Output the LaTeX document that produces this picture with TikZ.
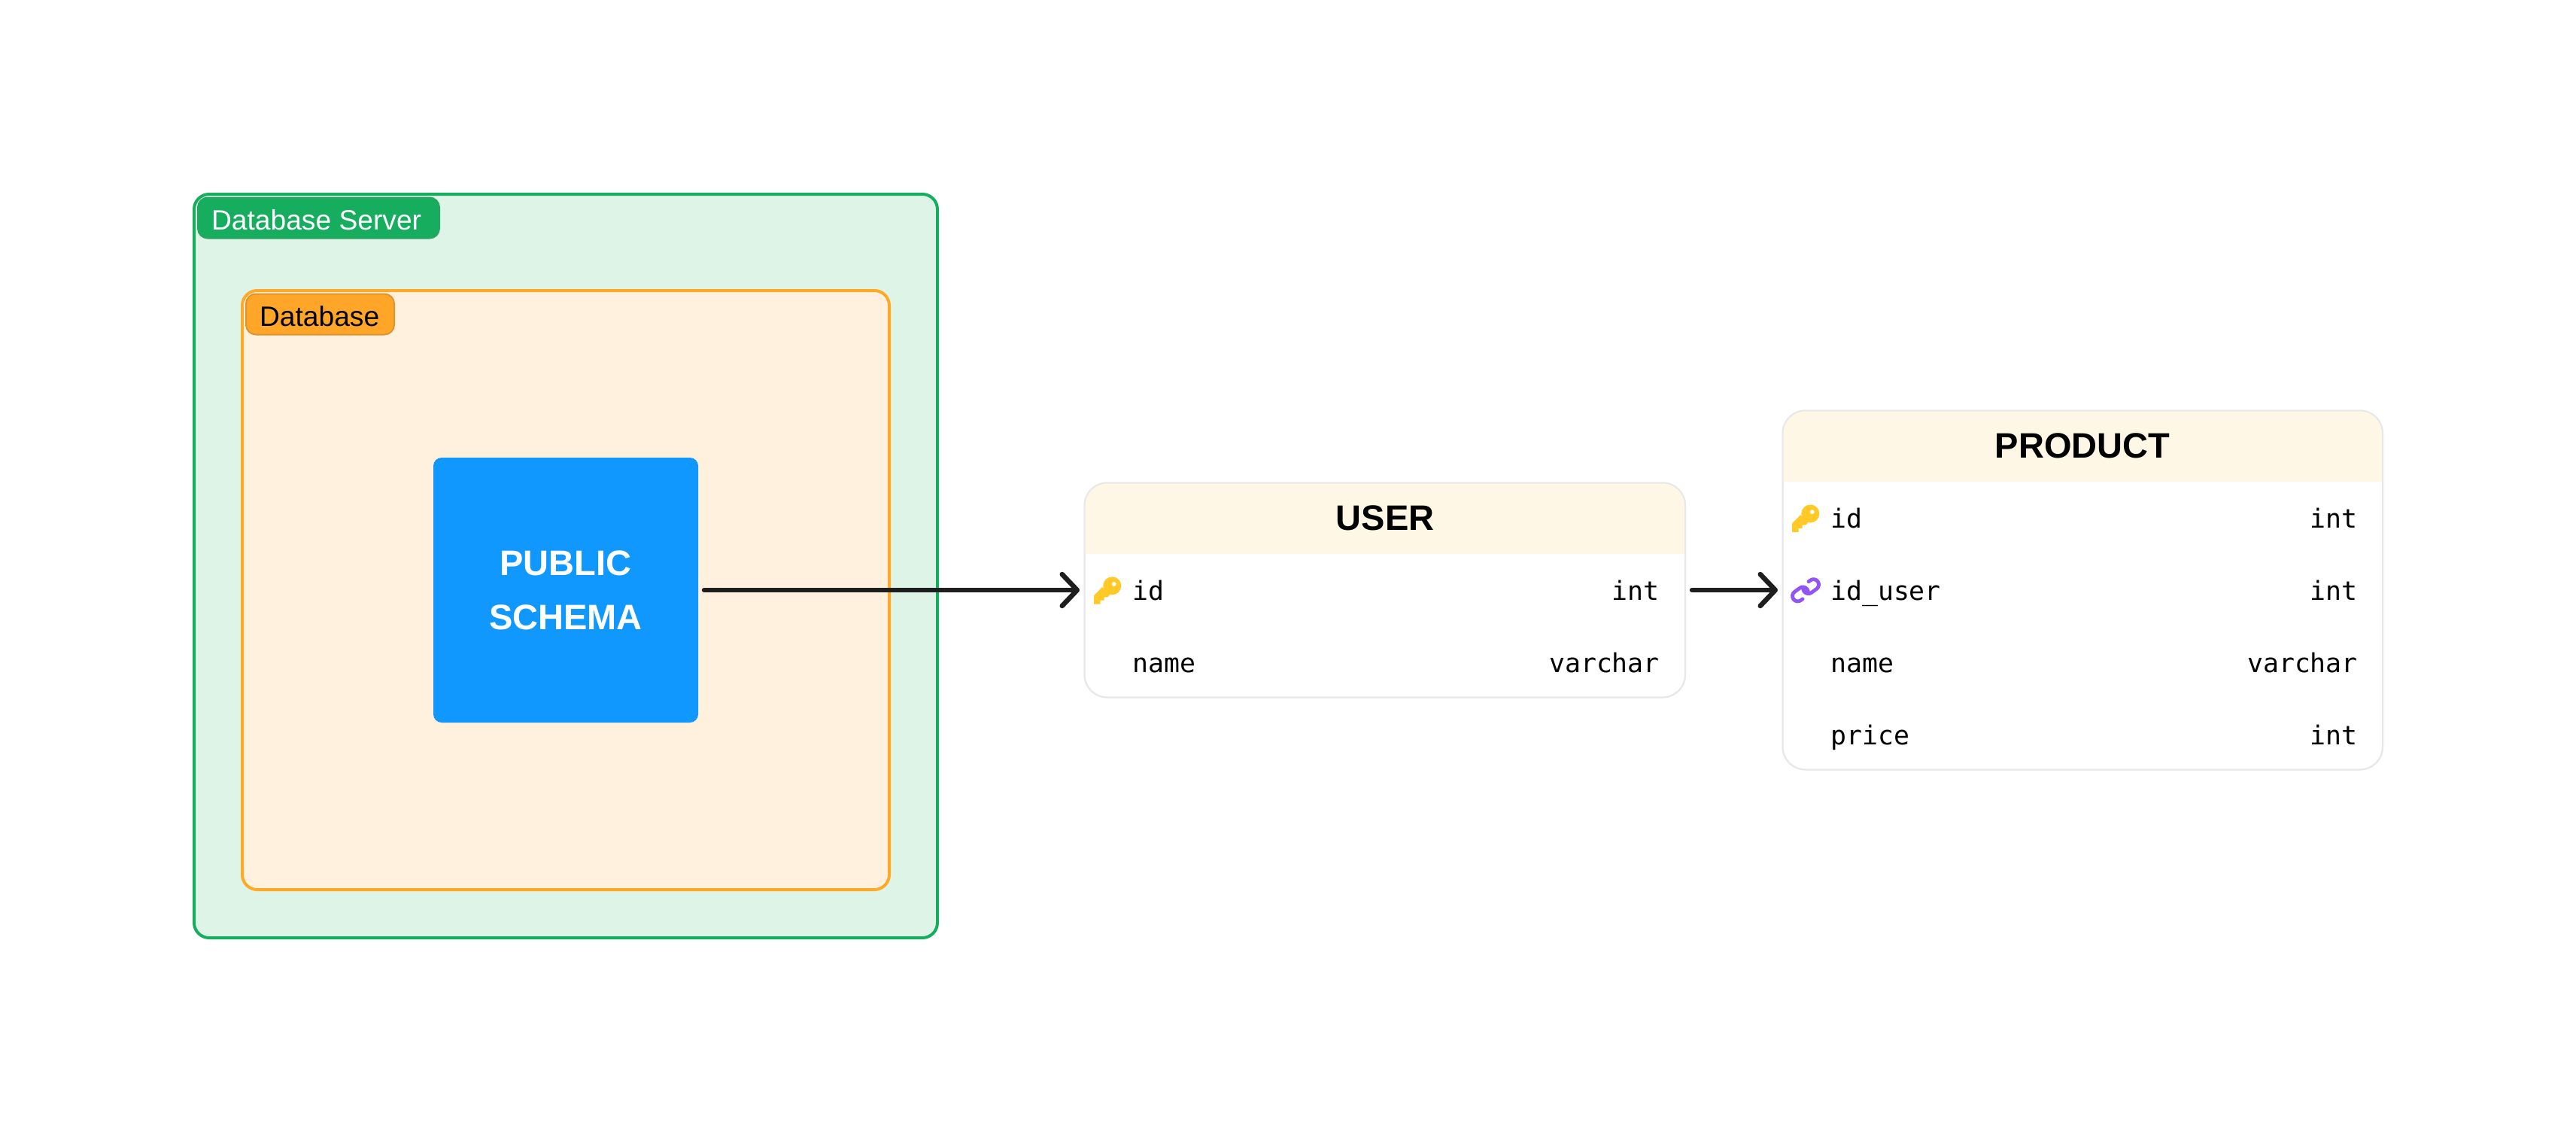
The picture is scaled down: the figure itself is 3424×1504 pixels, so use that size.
\documentclass[tikz,border=0pt]{standalone}
\usepackage{fontspec}
\setmainfont{Liberation Sans}
\setmonofont{DejaVu Sans Mono}
\usetikzlibrary{arrows.meta}
\definecolor{srvfill}{HTML}{DDF4E6}
\definecolor{srvline}{HTML}{16AD5E}
\definecolor{srvlab}{HTML}{16AD5E}
\definecolor{srvlabline}{HTML}{2BA463}
\definecolor{dbfill}{HTML}{FFF1DE}
\definecolor{dbline}{HTML}{FEA928}
\definecolor{dblab}{HTML}{FFA629}
\definecolor{dblabline}{HTML}{DD9430}
\definecolor{schemablue}{HTML}{1098FF}
\definecolor{hdrfill}{HTML}{FFF7E6}
\definecolor{tblline}{HTML}{E8E8E8}
\definecolor{keycol}{HTML}{FFCA28}
\definecolor{linkcol}{HTML}{9254F5}
\definecolor{arrowcol}{HTML}{1E1E1E}
\tikzset{
  x=1pt,y=-1pt,
  groupbox/.style={rounded corners=20pt,line width=4pt,anchor=north west,inner sep=0pt,outer sep=0pt},
  tag/.style={rounded corners=13pt,line width=2pt,anchor=west,outer sep=0pt,inner ysep=0pt,inner xsep=18pt,minimum height=54pt,text height=32pt,text depth=0.4pt,font=\fontsize{37.2}{40}\selectfont},
  schemabox/.style={fill=schemablue,rounded corners=11pt,minimum width=352pt,minimum height=352pt,inner sep=0pt,outer sep=0pt,text=white,align=center,anchor=center,font=\fontsize{47}{72}\selectfont\bfseries},
  tablebox/.style={draw=tblline,line width=2pt,rounded corners=30pt,anchor=north west,inner sep=0pt,outer sep=0pt},
  titletext/.style={anchor=base,font=\fontsize{47}{50}\selectfont\bfseries},
  coltext/.style={font=\fontsize{34.8}{38}\selectfont\ttfamily,inner sep=0pt},
  conn/.style={draw=arrowcol,line width=6.5pt,line cap=round,-{Straight Barb[length=20pt,width=42pt,line width=6.5pt,round]}},
}
\newcommand{\ertable}[6]{% name, left, top, right, bottom, headerbottom
  \pgfmathsetmacro{\tw}{#4-#2}\pgfmathsetmacro{\th}{#5-#3}
  \node[tablebox,fill=white,minimum width=\tw pt,minimum height=\th pt] (#1) at (#2,#3) {};
  \fill[hdrfill] (#2,#6) [rounded corners=30pt] -- (#2,#3) -- (#4,#3) [sharp corners] -- (#4,#6) -- cycle;
  \node[tablebox,minimum width=\tw pt,minimum height=\th pt] (#1border) at (#2,#3) {};
}
\newcommand{\keyicon}[2]{% head centre
  \begin{scope}[shift={(#1,#2)}]
    \fill[keycol,even odd rule] (0,0) circle (12pt) (2.4,-2.3) circle (3pt);
    \fill[keycol] (-13.3,1.7) -- (-24.3,13) -- (-24.3,24.3) -- (-15.7,24.3) -- (-15.7,19.3) -- (-10.7,19.3) -- (-10.7,15) -- (-6,15) -- (-2,10) -- cycle;
  \end{scope}
}
\begin{document}
\begin{tikzpicture}
\useasboundingbox (0,0) rectangle (3424,1504);
\node[groupbox,draw=srvline,fill=srvfill,minimum width=988pt,minimum height=988pt] (server) at (258,258) {};
\node[groupbox,draw=dbline,fill=dbfill,minimum width=860pt,minimum height=796pt] (database) at (322,386) {};
\node[tag,draw=srvlabline,fill=srvlab,text=white] (serverlabel) at (263,289.5) {\makebox[285pt][l]{Database Server}};
\node[tag,draw=dblabline,fill=dblab,text=black] (dblabel) at (327,417.5) {\makebox[161pt][l]{Database}};
\node[schemabox] (schema) at (752,784) {PUBLIC\\SCHEMA};

\ertable{user}{1441.5}{641.5}{2240}{926.5}{736}
\ertable{product}{2369.5}{545.5}{3167}{1022.5}{640}

\node[titletext] (usertitle) at (1841,704) {USER};
\node[titletext] (producttitle) at (2768,608) {PRODUCT};

\node[coltext,anchor=base west] (uidname) at (1505,797) {id};
\node[coltext,anchor=base east] (uidtype) at (2206,797) {int};
\node[coltext,anchor=base west] (unamename) at (1505,893) {name};
\node[coltext,anchor=base east] (unametype) at (2206,893) {varchar};

\node[coltext,anchor=base west] (pidname) at (2433,701) {id};
\node[coltext,anchor=base east] (pidtype) at (3134,701) {int};
\node[coltext,anchor=base west] (puidname) at (2433,797) {id\_user};
\node[coltext,anchor=base east] (puidtype) at (3134,797) {int};
\node[coltext,anchor=base west] (pnamename) at (2433,893) {name};
\node[coltext,anchor=base east] (pnametype) at (3134,893) {varchar};
\node[coltext,anchor=base west] (ppricename) at (2433,989) {price};
\node[coltext,anchor=base east] (ppricetype) at (3134,989) {int};

\keyicon{1478.3}{778.3}
\keyicon{2406.3}{682.5}

\begin{scope}[shift={(2400,784.3)},rotate=36,linkcol,line width=4.8pt,line cap=round]
  \draw (-10,7) -- (-13,7) arc[start angle=270,end angle=90,radius=7pt] -- (-4.5,-7) arc[start angle=90,end angle=-40,radius=7pt];
  \draw (10,-7) -- (13,-7) arc[start angle=90,end angle=-90,radius=7pt] -- (4.5,7) arc[start angle=270,end angle=140,radius=7pt];
\end{scope}

\coordinate (userin) at (1441,784);
\coordinate (userout) at (2240,784);
\coordinate (prodin) at (2369,784);
\draw[conn,shorten <=8pt,shorten >=6pt] (schema.east) -- (userin);
\draw[conn,shorten <=9pt,shorten >=6pt] (userout) -- (prodin);
\end{tikzpicture}
\end{document}
